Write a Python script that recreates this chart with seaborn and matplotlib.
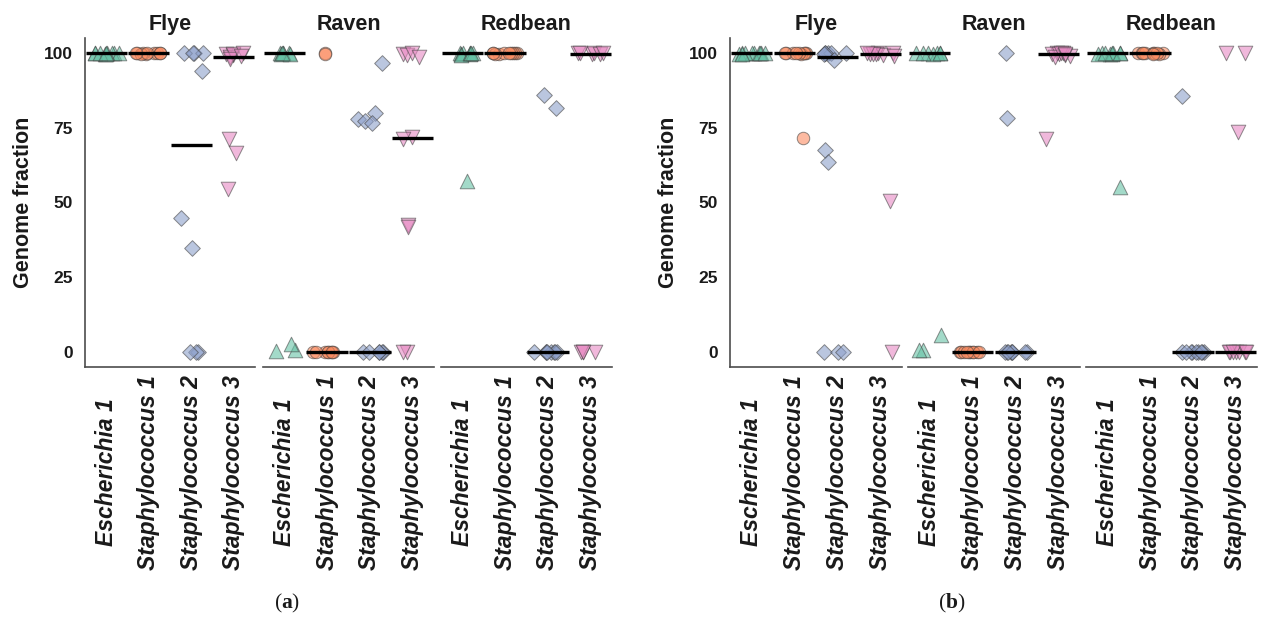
import numpy as np
import pandas as pd
import matplotlib
matplotlib.use("Agg")
import matplotlib.pyplot as plt
import seaborn as sns

# ---------------------------------------------------------------- data
ASSEMBLERS = ["Flye", "Raven", "Redbean"]
GENOMES = ["Escherichia 1", "Staphylococcus 1", "Staphylococcus 2", "Staphylococcus 3"]
Y_TICKS = [0, 25, 50, 75, 100]
PANEL_TAGS = ["a", "b"]

# panel (a): genome fraction (%) per replicate
A_FLYE_ESC = [100, 100, 99.8, 100, 99.9, 100, 99.7, 100, 100, 99.9]
A_FLYE_ST1 = [99.9, 100, 99.8, 100, 99.9, 100, 99.8, 100, 99.9, 100]
A_FLYE_ST2 = [100, 100, 100, 100, 93.8, 44.9, 34.8, 0, 0, 0]
A_FLYE_ST3 = [99.8, 99.2, 98.6, 99.5, 98.1, 99.9, 98.9, 71.2, 66.4, 54.6]

A_RAV_ESC = [100, 99.9, 100, 99.8, 100, 99.7, 100, 0.8, 0.5, 2.8]
A_RAV_ST1 = [100, 99.8, 0, 0, 0, 0, 0, 0, 0, 0]
A_RAV_ST2 = [96.8, 79.8, 77.8, 77.4, 76.6, 0, 0, 0, 0, 0, 0]
A_RAV_ST3 = [99.7, 99.2, 99.9, 98.8, 71.9, 71.1, 42.6, 41.9, 0, 0]

A_RED_ESC = [100, 99.5, 100, 99.8, 100, 99.2, 100, 99.9, 57.2, 100]
A_RED_ST1 = [100, 99.9, 100, 99.8, 100, 99.9, 100, 99.8, 100, 100]
A_RED_ST2 = [85.9, 81.7, 0, 0, 0, 0, 0, 0, 0, 0]
A_RED_ST3 = [100, 99.8, 100, 99.6, 100, 99.9, 0, 0, 0, 0]

# panel (b)
B_FLYE_ESC = [100, 99.9, 100, 100, 99.8, 100, 99.9, 100, 100, 99.8]
B_FLYE_ST1 = [100, 99.9, 100, 100, 99.8, 100, 99.9, 100, 71.6, 100]
B_FLYE_ST2 = [100, 100, 100, 100, 100, 99.6, 97.7, 67.7, 63.4, 0, 0, 0]
B_FLYE_ST3 = [100, 99.8, 99.5, 99.2, 99.9, 98.9, 99.6, 100, 50.6, 0]

B_RAV_ESC = [100, 99.9, 100, 99.8, 100, 99.9, 100, 0.6, 0.7, 5.6]
B_RAV_ST1 = [0, 0, 0, 0, 0, 0, 0, 0, 0, 0]
B_RAV_ST2 = [100, 78.2, 0, 0, 0, 0, 0, 0, 0, 0]
B_RAV_ST3 = [100, 99.8, 99.5, 99.1, 98.7, 99.9, 100, 99.4, 71.3, 99.6]

B_RED_ESC = [100, 99.8, 100, 99.6, 100, 99.9, 99.7, 100, 55.1, 100]
B_RED_ST1 = [100, 99.9, 100, 99.8, 100, 100, 99.9, 100, 100, 99.8]
B_RED_ST2 = [85.6, 0, 0, 0, 0, 0, 0, 0, 0, 0]
B_RED_ST3 = [100, 100, 73.6, 0, 0, 0, 0, 0, 0, 0]

PANEL_DATA = {
    "a": [[A_FLYE_ESC, A_FLYE_ST1, A_FLYE_ST2, A_FLYE_ST3],
          [A_RAV_ESC, A_RAV_ST1, A_RAV_ST2, A_RAV_ST3],
          [A_RED_ESC, A_RED_ST1, A_RED_ST2, A_RED_ST3]],
    "b": [[B_FLYE_ESC, B_FLYE_ST1, B_FLYE_ST2, B_FLYE_ST3],
          [B_RAV_ESC, B_RAV_ST1, B_RAV_ST2, B_RAV_ST3],
          [B_RED_ESC, B_RED_ST1, B_RED_ST2, B_RED_ST3]],
}

rows = []
for tag in PANEL_TAGS:
    for asm, per_genome in zip(ASSEMBLERS, PANEL_DATA[tag]):
        for gen, vals in zip(GENOMES, per_genome):
            for v in vals:
                rows.append({"panel": tag, "assembler": asm, "genome": gen, "value": v})
df = pd.DataFrame(rows)

# ---------------------------------------------------------------- style
sns.set_theme(style="white")
plt.rcParams["font.family"] = ["Liberation Sans", "DejaVu Sans"]
plt.rcParams["mathtext.fontset"] = "custom"
plt.rcParams["mathtext.rm"] = "Liberation Serif"
plt.rcParams["mathtext.bf"] = "Liberation Serif:bold"

GENOME_COLORS = ["#66c2a5", "#fc8d62", "#8da0cb", "#e78ac3"]
GENOME_MARKERS = ["^", "o", "D", "v"]
GENOME_SIZES = [10.5, 9, 8, 10.5]
TEXT = "#1a1a1a"
SPINE = "#4d4d4d"

W, H = 1261, 621
fig = plt.figure(figsize=(W / 100, H / 100), dpi=100)

FACET_X = {
    "a": [(85, 255), (263, 434), (441, 612)],
    "b": [(730, 902), (908, 1080), (1086, 1257)],
}
TOP, BOTTOM = 38, 367
CAPTION_X = {"a": 287, "b": 952}

np.random.seed(7)
for tag in PANEL_TAGS:
    for i, asm in enumerate(ASSEMBLERS):
        x0, x1 = FACET_X[tag][i]
        ax = fig.add_axes([x0 / W, 1 - BOTTOM / H, (x1 - x0) / W, (BOTTOM - TOP) / H])
        sub = df[(df.panel == tag) & (df.assembler == asm)]

        for gen, col, mk, sz in zip(GENOMES, GENOME_COLORS, GENOME_MARKERS, GENOME_SIZES):
            sns.stripplot(data=sub[sub.genome == gen], x="genome", y="value",
                          order=GENOMES, color=col, marker=mk, size=sz,
                          jitter=0.32, alpha=0.6, edgecolor="#444444",
                          linewidth=0.7, ax=ax, zorder=2)

        sns.boxplot(data=sub, x="genome", y="value", order=GENOMES, width=0.97,
                    showbox=False, showcaps=False, showfliers=False, whis=0,
                    whiskerprops={"visible": False},
                    medianprops={"color": "black", "linewidth": 2.4, "zorder": 5},
                    ax=ax)

        ax.set_xlim(-0.5, 3.5)
        ax.set_ylim(-5, 105)
        ax.set_title(asm, fontsize=15.5, fontweight="bold", color=TEXT, pad=6)
        ax.set_xlabel("")

        ax.set_xticks(range(len(GENOMES)))
        ax.set_xticklabels(GENOMES, rotation=90, fontstyle="italic",
                           fontweight="bold", fontsize=16.5, color=TEXT)
        for lab in ax.get_xticklabels():
            lab.set_verticalalignment("center")
        ax.tick_params(axis="x", length=0, pad=76)

        for s in ["top", "right"]:
            ax.spines[s].set_visible(False)
        ax.spines["bottom"].set_color(SPINE)
        ax.spines["bottom"].set_linewidth(1.2)

        if i == 0:
            ax.set_yticks(Y_TICKS)
            ax.set_yticklabels([str(t) for t in Y_TICKS], fontsize=12.5,
                               fontweight="bold", color=TEXT)
            ax.tick_params(axis="y", length=0, pad=9)
            ax.set_ylabel("Genome fraction", fontsize=15.5, fontweight="bold",
                          color=TEXT, labelpad=7)
            ax.spines["left"].set_color(SPINE)
            ax.spines["left"].set_linewidth(1.2)
        else:
            ax.set_yticks(Y_TICKS)
            ax.set_yticklabels([])
            ax.tick_params(axis="y", length=0)
            ax.set_ylabel("")
            ax.spines["left"].set_visible(False)

    fig.text(CAPTION_X[tag] / W, 1 - 603 / H, rf"($\mathbf{{{tag}}}$)",
             ha="center", va="center", fontsize=15.5, color=TEXT,
             family="Liberation Serif")

fig.savefig("out.png", dpi=100, facecolor="white")
